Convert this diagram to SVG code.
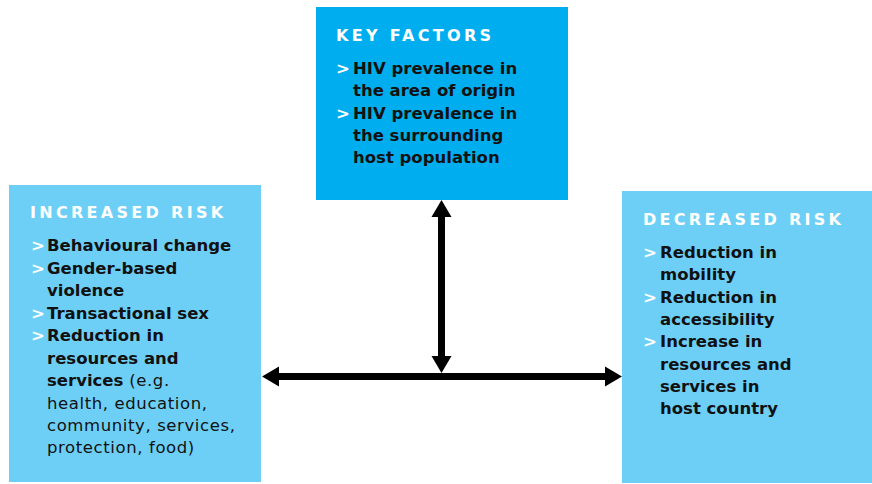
<svg xmlns="http://www.w3.org/2000/svg" width="872" height="484" viewBox="0 0 872 484">
  <style>
    .title { font-family: "DejaVu Sans", "Liberation Sans", sans-serif; font-weight: bold; font-size: 16px; letter-spacing: 3.3px; fill: #ffffff; }
    .b { font-family: "DejaVu Sans", "Liberation Sans", sans-serif; font-weight: bold; font-size: 16.5px; fill: #111111; }
    .r { font-family: "DejaVu Sans", "Liberation Sans", sans-serif; font-weight: normal; font-size: 16.5px; fill: #111111; letter-spacing: 0.6px; }
    .g { font-family: "DejaVu Sans", "Liberation Sans", sans-serif; font-weight: bold; font-size: 16.5px; fill: #ffffff; }
    .conn { stroke: #000000; stroke-width: 7; fill: none; }
  </style>
  <defs>
    <marker id="ah" markerUnits="userSpaceOnUse" markerWidth="18" markerHeight="22" refX="0" refY="10" orient="auto-start-reverse" viewBox="0 0 18 20">
      <path d="M0,0 L17,10 L0,20 Z" fill="#000000"/>
    </marker>
  </defs>
  <rect width="872" height="484" fill="#ffffff"/>

  <g id="key-factors">
    <rect x="316" y="7" width="252" height="193" fill="#00aeef"/>
    <text class="title" x="336" y="41">KEY FACTORS</text>
    <text class="g" x="336" y="74">&gt;</text>
    <text class="b" x="353" y="74">HIV prevalence in</text>
    <text class="b" x="353" y="96">the area of origin</text>
    <text class="g" x="336" y="119">&gt;</text>
    <text class="b" x="353" y="119">HIV prevalence in</text>
    <text class="b" x="353" y="141">the surrounding</text>
    <text class="b" x="353" y="163">host population</text>
  </g>

  <g id="increased-risk">
    <rect x="9" y="185" width="252" height="297" fill="#6dcff6"/>
    <text class="title" x="30" y="218">INCREASED RISK</text>
    <text class="g" x="31" y="251">&gt;</text>
    <text class="b" x="47" y="251">Behavioural change</text>
    <text class="g" x="31" y="274">&gt;</text>
    <text class="b" x="47" y="274">Gender-based</text>
    <text class="b" x="47" y="296">violence</text>
    <text class="g" x="31" y="319">&gt;</text>
    <text class="b" x="47" y="319">Transactional sex</text>
    <text class="g" x="31" y="341">&gt;</text>
    <text class="b" x="47" y="341">Reduction in</text>
    <text class="b" x="47" y="364">resources and</text>
    <text x="47" y="386"><tspan class="b">services</tspan><tspan class="r"> (e.g.</tspan></text>
    <text class="r" x="47" y="409">health, education,</text>
    <text class="r" x="47" y="431">community, services,</text>
    <text class="r" x="47" y="453">protection, food)</text>
  </g>

  <g id="decreased-risk">
    <rect x="622" y="191" width="250" height="292" fill="#6dcff6"/>
    <text class="title" x="643" y="225">DECREASED RISK</text>
    <text class="g" x="643" y="258">&gt;</text>
    <text class="b" x="660" y="258">Reduction in</text>
    <text class="b" x="660" y="280">mobility</text>
    <text class="g" x="643" y="303">&gt;</text>
    <text class="b" x="660" y="303">Reduction in</text>
    <text class="b" x="660" y="325">accessibility</text>
    <text class="g" x="643" y="347">&gt;</text>
    <text class="b" x="660" y="347">Increase in</text>
    <text class="b" x="660" y="370">resources and</text>
    <text class="b" x="660" y="392">services in</text>
    <text class="b" x="660" y="414">host country</text>
  </g>

  <g id="connectors">
    <line class="conn" x1="441.5" y1="217" x2="441.5" y2="356" marker-start="url(#ah)" marker-end="url(#ah)"/>
    <line class="conn" x1="279" y1="376.5" x2="605" y2="376.5" marker-start="url(#ah)" marker-end="url(#ah)"/>
  </g>
</svg>
